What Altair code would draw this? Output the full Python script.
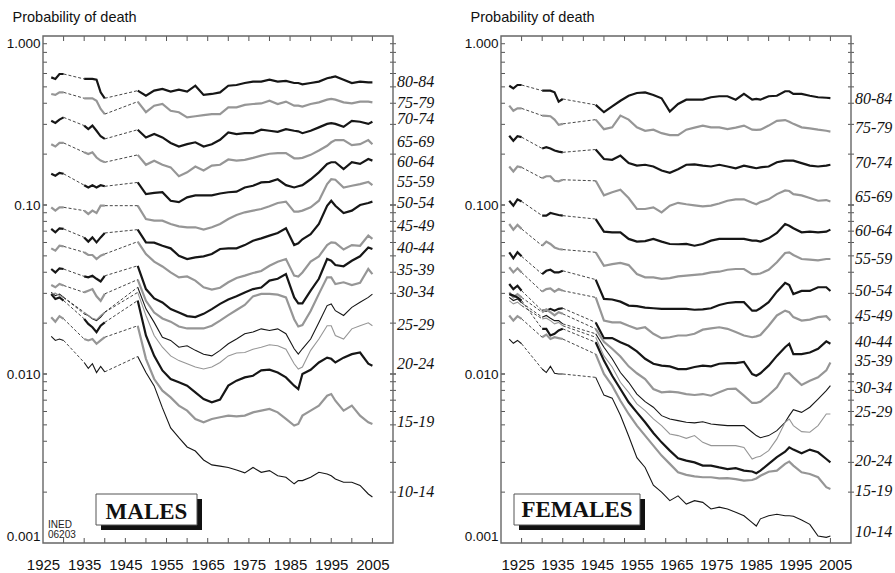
import altair as alt
import pandas as pd

# ---------------- data ----------------
YEARS_A = [1927, 1928, 1929, 1930]
YEARS_B = [1935, 1936, 1937, 1938, 1939, 1940]
YEARS_C = [1948, 1950, 1952, 1954, 1956, 1958, 1960, 1962, 1964, 1966, 1968, 1970,
           1972, 1974, 1976, 1978, 1980, 1982, 1984, 1986, 1987, 1988, 1990, 1992,
           1994, 1995, 1996, 1998, 2000, 2002, 2004, 2005]

AGES = ["80-84", "75-79", "70-74", "65-69", "60-64", "55-59", "50-54", "45-49",
        "40-44", "35-39", "30-34", "25-29", "20-24", "15-19", "10-14"]

# Males: values for YEARS_A + YEARS_B + YEARS_C
m_80_84 = [0.569, 0.557, 0.596, 0.596,
           0.557, 0.557, 0.557, 0.551, 0.464, 0.428,
           0.475, 0.443, 0.475, 0.486, 0.469, 0.481, 0.469, 0.508, 0.448, 0.454, 0.464, 0.508,
           0.513, 0.527, 0.537, 0.537, 0.551, 0.537, 0.542, 0.527, 0.527, 0.518, 0.527, 0.537,
           0.562, 0.569, 0.577, 0.551, 0.527, 0.537, 0.532, 0.532]
m_75_79 = [0.454, 0.448, 0.464, 0.464,
           0.428, 0.428, 0.428, 0.414, 0.370, 0.345,
           0.409, 0.354, 0.387, 0.396, 0.361, 0.354, 0.330, 0.335, 0.340, 0.345, 0.345, 0.378,
           0.378, 0.391, 0.396, 0.399, 0.414, 0.396, 0.409, 0.387, 0.387, 0.382, 0.396, 0.405,
           0.420, 0.424, 0.420, 0.405, 0.399, 0.409, 0.409, 0.405]
m_70_74 = [0.315, 0.306, 0.320, 0.330,
           0.295, 0.281, 0.295, 0.275, 0.255, 0.246,
           0.279, 0.251, 0.263, 0.251, 0.233, 0.222, 0.229, 0.235, 0.222, 0.229, 0.243, 0.269,
           0.263, 0.266, 0.266, 0.279, 0.275, 0.271, 0.281, 0.275, 0.273, 0.266, 0.275, 0.288,
           0.302, 0.305, 0.302, 0.290, 0.315, 0.311, 0.302, 0.311]
m_65_69 = [0.229, 0.222, 0.233, 0.233,
           0.205, 0.200, 0.205, 0.191, 0.183, 0.179,
           0.198, 0.173, 0.183, 0.173, 0.167, 0.148, 0.156, 0.169, 0.160, 0.171, 0.173, 0.186,
           0.183, 0.185, 0.190, 0.196, 0.201, 0.203, 0.203, 0.189, 0.189, 0.190, 0.198, 0.210,
           0.224, 0.235, 0.242, 0.242, 0.226, 0.229, 0.242, 0.229]
m_60_64 = [0.153, 0.149, 0.155, 0.153,
           0.131, 0.127, 0.131, 0.127, 0.131, 0.129,
           0.136, 0.116, 0.118, 0.119, 0.106, 0.104, 0.111, 0.114, 0.114, 0.114, 0.117, 0.119,
           0.120, 0.127, 0.130, 0.136, 0.137, 0.142, 0.131, 0.127, 0.129, 0.131, 0.142, 0.156,
           0.175, 0.179, 0.179, 0.163, 0.179, 0.175, 0.187, 0.183]
m_55_59 = [0.0969, 0.0926, 0.0969, 0.0969,
           0.0926, 0.0885, 0.0926, 0.0897, 0.0991, 0.0991,
           0.0991, 0.0826, 0.0808, 0.0808, 0.0772, 0.0748, 0.0738, 0.0738, 0.0715, 0.0738, 0.0772, 0.0826,
           0.0873, 0.0905, 0.0926, 0.0947, 0.0982, 0.1028, 0.1047, 0.0913, 0.0913, 0.0926, 0.0969, 0.106,
           0.133, 0.142, 0.141, 0.127, 0.130, 0.133, 0.137, 0.131]
m_50_54 = [0.0722, 0.0689, 0.0728, 0.0722,
           0.0643, 0.0607, 0.0643, 0.0601, 0.0643, 0.0683,
           0.0715, 0.0601, 0.0599, 0.0574, 0.0554, 0.0501, 0.0479, 0.0490, 0.0497, 0.0513, 0.0549, 0.0554,
           0.0554, 0.0579, 0.0615, 0.0635, 0.0659, 0.0683, 0.0728, 0.0579, 0.0593, 0.0627, 0.0672, 0.0772,
           0.099, 0.106, 0.099, 0.0897, 0.0926, 0.100, 0.1028, 0.1047]
m_45_49 = [0.0554, 0.0537, 0.0574, 0.0569,
           0.0525, 0.0506, 0.0506, 0.0479, 0.0501, 0.0513,
           0.0607, 0.0513, 0.0462, 0.0433, 0.0399, 0.0373, 0.0378, 0.0357, 0.0326, 0.0316, 0.0324, 0.0349,
           0.0370, 0.0382, 0.0396, 0.0407, 0.0437, 0.0462, 0.0479, 0.0382, 0.0377, 0.0399, 0.0462, 0.0497,
           0.0579, 0.0601, 0.0597, 0.0545, 0.0579, 0.0574, 0.0659, 0.0630]
m_40_44 = [0.0418, 0.0399, 0.0422, 0.0418,
           0.0378, 0.0373, 0.0381, 0.0366, 0.0353, 0.0381,
           0.0437, 0.0318, 0.0280, 0.0265, 0.0242, 0.0231, 0.0220, 0.0217, 0.0227, 0.0242, 0.0260, 0.0276,
           0.0288, 0.0304, 0.0318, 0.0325, 0.0357, 0.0366, 0.0390, 0.0284, 0.0262, 0.0262, 0.0311, 0.0366,
           0.0479, 0.0468, 0.0441, 0.0434, 0.0468, 0.0497, 0.0561, 0.0549]
m_35_39 = [0.0336, 0.0326, 0.0341, 0.0334,
           0.0304, 0.0311, 0.0318, 0.0288, 0.0271, 0.0298,
           0.0362, 0.0271, 0.0231, 0.0213, 0.0204, 0.0191, 0.0186, 0.0186, 0.0186, 0.0193, 0.0207, 0.0223,
           0.0239, 0.0256, 0.0288, 0.0298, 0.0298, 0.0295, 0.0284, 0.0211, 0.0191, 0.0195, 0.0236, 0.0298,
           0.0373, 0.0373, 0.0341, 0.0349, 0.0336, 0.0346, 0.0418, 0.0390]
m_30_34 = [0.0304, 0.0291, 0.0297, 0.0284,
           0.0227, 0.0222, 0.0212, 0.0207, 0.0217, 0.0232,
           0.0326, 0.0243, 0.0202, 0.0165, 0.0158, 0.0144, 0.0147, 0.0138, 0.0131, 0.0128, 0.0138, 0.0151,
           0.0161, 0.0173, 0.0177, 0.0185, 0.0181, 0.0185, 0.0173, 0.0141, 0.0131, 0.0141, 0.0161, 0.0202,
           0.0254, 0.0260, 0.0237, 0.0222, 0.0248, 0.0266, 0.0284, 0.0297]
m_25_29 = [0.0297, 0.0301, 0.0291, 0.0284,
           0.0232, 0.0222, 0.0214, 0.0210, 0.0222, 0.0232,
           0.0304, 0.0222, 0.0169, 0.0144, 0.0128, 0.0120, 0.0115, 0.0110, 0.0107, 0.0110, 0.0117, 0.0128,
           0.0133, 0.0134, 0.0140, 0.0144, 0.0149, 0.0147, 0.0140, 0.0115, 0.0107, 0.0110, 0.0138, 0.0161,
           0.0193, 0.0193, 0.0169, 0.0161, 0.0185, 0.0193, 0.0201, 0.0193]
m_20_24 = [0.0297, 0.0278, 0.0284, 0.0272,
           0.0212, 0.0198, 0.0189, 0.0177, 0.0193, 0.0202,
           0.0272, 0.0169, 0.0128, 0.0105, 0.00934, 0.00893, 0.00853, 0.00779, 0.00711, 0.00680, 0.00705, 0.00853,
           0.00913, 0.00955, 0.00977, 0.0105, 0.0106, 0.0102, 0.00955, 0.00853, 0.00815, 0.0100, 0.0106, 0.0117,
           0.0125, 0.0123, 0.0117, 0.0125, 0.0131, 0.0134, 0.0115, 0.0112]
m_15_19 = [0.0217, 0.0204, 0.0220, 0.0212,
           0.0161, 0.0158, 0.0161, 0.0151, 0.0158, 0.0165,
           0.0193, 0.0123, 0.00934, 0.00797, 0.00727, 0.00650, 0.00607, 0.00542, 0.00518, 0.00542, 0.00555, 0.00567,
           0.00562, 0.00567, 0.00593, 0.00607, 0.00621, 0.00593, 0.00542, 0.00495, 0.00506, 0.00567, 0.00607, 0.00650,
           0.00744, 0.00761, 0.00695, 0.00607, 0.00650, 0.00567, 0.00518, 0.00506]
m_10_14 = [0.0167, 0.0158, 0.0161, 0.0158,
           0.0117, 0.0108, 0.0115, 0.0102, 0.0111, 0.0103,
           0.0127, 0.0102, 0.0085, 0.0063, 0.0048, 0.0042, 0.0037, 0.0035, 0.0031, 0.0029, 0.00285, 0.0028,
           0.0027, 0.0026, 0.0028, 0.00262, 0.00268, 0.0025, 0.00245, 0.00224, 0.00234, 0.00234, 0.00245, 0.00262,
           0.00256, 0.0025, 0.00239, 0.00229, 0.00229, 0.00219, 0.00195, 0.00187]

# Females
f_80_84 = [0.508, 0.490, 0.513, 0.513,
           0.475, 0.475, 0.475, 0.464, 0.409, 0.424,
           0.391, 0.354, 0.383, 0.414, 0.443, 0.460, 0.464, 0.448, 0.428, 0.357, 0.396, 0.420,
           0.420, 0.420, 0.434, 0.440, 0.440, 0.420, 0.454, 0.420, 0.424, 0.420, 0.440, 0.443,
           0.471, 0.471, 0.454, 0.454, 0.443, 0.434, 0.431, 0.429]
f_75_79 = [0.387, 0.361, 0.373, 0.373,
           0.338, 0.337, 0.335, 0.320, 0.298, 0.302,
           0.320, 0.281, 0.288, 0.338, 0.320, 0.288, 0.275, 0.279, 0.266, 0.259, 0.259, 0.279,
           0.287, 0.295, 0.288, 0.288, 0.281, 0.287, 0.295, 0.279, 0.278, 0.279, 0.295, 0.315,
           0.318, 0.311, 0.302, 0.288, 0.284, 0.279, 0.275, 0.272]
f_70_74 = [0.257, 0.240, 0.255, 0.252,
           0.216, 0.220, 0.216, 0.210, 0.207, 0.205,
           0.213, 0.187, 0.185, 0.196, 0.177, 0.171, 0.173, 0.169, 0.160, 0.155, 0.163, 0.173,
           0.174, 0.171, 0.169, 0.173, 0.169, 0.165, 0.171, 0.167, 0.165, 0.167, 0.169, 0.179,
           0.183, 0.183, 0.183, 0.177, 0.171, 0.169, 0.171, 0.173]
f_65_69 = [0.169, 0.158, 0.169, 0.167,
           0.144, 0.148, 0.148, 0.139, 0.138, 0.141,
           0.139, 0.114, 0.119, 0.123, 0.110, 0.0947, 0.0947, 0.0969, 0.0905, 0.0991, 0.103, 0.101,
           0.0995, 0.0982, 0.0991, 0.102, 0.106, 0.108, 0.108, 0.103, 0.101, 0.104, 0.108, 0.116,
           0.122, 0.121, 0.116, 0.114, 0.110, 0.106, 0.107, 0.105]
f_60_64 = [0.106, 0.0991, 0.108, 0.105,
           0.0865, 0.0865, 0.0897, 0.0885, 0.0873, 0.0865,
           0.0826, 0.0695, 0.0689, 0.0689, 0.0630, 0.0607, 0.0612, 0.0630, 0.0607, 0.0588, 0.0586, 0.0588,
           0.0574, 0.0588, 0.0615, 0.0630, 0.0630, 0.0630, 0.0630, 0.0615, 0.0615, 0.0607, 0.0635, 0.0683,
           0.0772, 0.0754, 0.0728, 0.0689, 0.0695, 0.0689, 0.0695, 0.0715]
f_55_59 = [0.0772, 0.0715, 0.0762, 0.0722,
           0.0574, 0.0607, 0.0588, 0.0561, 0.0549, 0.0545,
           0.0525, 0.0437, 0.0447, 0.0454, 0.0441, 0.0390, 0.0373, 0.0373, 0.0366, 0.0369, 0.0378, 0.0382,
           0.0386, 0.0390, 0.0399, 0.0403, 0.0414, 0.0418, 0.0418, 0.0390, 0.0390, 0.0393, 0.0414, 0.0458,
           0.0520, 0.0525, 0.0506, 0.0479, 0.0475, 0.0470, 0.0479, 0.0479]
f_50_54 = [0.0525, 0.0484, 0.0525, 0.0497,
           0.0390, 0.0408, 0.0414, 0.0399, 0.0399, 0.0408,
           0.0362, 0.0278, 0.0276, 0.0268, 0.0254, 0.0252, 0.0247, 0.0245, 0.0243, 0.0243, 0.0243, 0.0243,
           0.0240, 0.0241, 0.0245, 0.0256, 0.0263, 0.0266, 0.0266, 0.0237, 0.0237, 0.0245, 0.0266, 0.0307,
           0.0346, 0.0336, 0.0297, 0.0310, 0.0310, 0.0326, 0.0326, 0.0310]
f_45_49 = [0.0428, 0.0399, 0.0422, 0.0399,
           0.0307, 0.0318, 0.0321, 0.0307, 0.0318, 0.0311,
           0.0284, 0.0207, 0.0202, 0.0202, 0.0193, 0.0185, 0.0189, 0.0173, 0.0163, 0.0165, 0.0169, 0.0169,
           0.0173, 0.0183, 0.0186, 0.0189, 0.0185, 0.0177, 0.0169, 0.0165, 0.0167, 0.0170, 0.0193, 0.0222,
           0.0237, 0.0232, 0.0217, 0.0207, 0.0210, 0.0217, 0.0220, 0.0207]
f_40_44 = [0.0341, 0.0318, 0.0333, 0.0311,
           0.0237, 0.0237, 0.0243, 0.0237, 0.0243, 0.0245,
           0.0202, 0.0163, 0.0163, 0.0154, 0.0147, 0.0136, 0.0123, 0.0115, 0.0112, 0.0111, 0.0107, 0.0107,
           0.0110, 0.0112, 0.0111, 0.0115, 0.0116, 0.0116, 0.0118, 0.0100, 0.00977, 0.0101, 0.0112, 0.0128,
           0.0144, 0.0151, 0.0131, 0.0131, 0.0134, 0.0141, 0.0156, 0.0151]
f_35_39 = [0.0304, 0.0284, 0.0297, 0.0284,
           0.0232, 0.0241, 0.0232, 0.0222, 0.0232, 0.0227,
           0.0185, 0.0155, 0.0141, 0.0127, 0.0111, 0.0101, 0.00934, 0.00815, 0.00779, 0.00786, 0.00779, 0.00761,
           0.00751, 0.00761, 0.00744, 0.00779, 0.00815, 0.00820, 0.00744, 0.00674, 0.00674, 0.00686, 0.00751, 0.00834,
           0.0100, 0.0101, 0.00955, 0.00861, 0.00913, 0.00955, 0.0105, 0.0117]
f_30_34 = [0.0284, 0.0272, 0.0278, 0.0264,
           0.0217, 0.0222, 0.0214, 0.0207, 0.0207, 0.0198,
           0.0173, 0.0144, 0.0123, 0.0102, 0.00893, 0.00761, 0.00686, 0.00636, 0.00567, 0.00542, 0.00530, 0.00518,
           0.00514, 0.00522, 0.00506, 0.00500, 0.00495, 0.00495, 0.00495, 0.00452, 0.00432, 0.00420, 0.00432, 0.00462,
           0.00518, 0.00567, 0.00615, 0.00593, 0.00636, 0.00711, 0.00797, 0.00853]
f_25_29 = [0.0272, 0.0260, 0.0266, 0.0254,
           0.0212, 0.0214, 0.0207, 0.0198, 0.0202, 0.0193,
           0.0165, 0.0128, 0.0110, 0.00893, 0.00779, 0.00665, 0.00607, 0.00542, 0.00495, 0.00442, 0.00432, 0.00416,
           0.00432, 0.00394, 0.00377, 0.00377, 0.00377, 0.00377, 0.00368, 0.00314, 0.00322, 0.00326, 0.00352, 0.00413,
           0.00518, 0.00542, 0.00495, 0.00456, 0.00452, 0.00495, 0.00580, 0.00580]
f_20_24 = [0.0297, 0.0291, 0.0284, 0.0272,
           0.0185, 0.0185, 0.0169, 0.0173, 0.0181, 0.0185,
           0.0154, 0.0120, 0.00977, 0.00815, 0.00680, 0.00593, 0.00518, 0.00448, 0.00394, 0.00352, 0.00317, 0.00307,
           0.00300, 0.00287, 0.00287, 0.00280, 0.00274, 0.00277, 0.00268, 0.00265, 0.00259, 0.00268, 0.00294, 0.00322,
           0.00347, 0.00368, 0.00357, 0.00340, 0.00357, 0.00344, 0.00314, 0.00300]
f_15_19 = [0.0222, 0.0207, 0.0220, 0.0212,
           0.0165, 0.0171, 0.0161, 0.0165, 0.0163, 0.0161,
           0.0131, 0.0100, 0.00853, 0.00695, 0.00580, 0.00495, 0.00432, 0.00377, 0.00329, 0.00294, 0.00262, 0.00253,
           0.00248, 0.00245, 0.00245, 0.00241, 0.00242, 0.00239, 0.00234, 0.00236, 0.00241, 0.00250, 0.00264, 0.00268,
           0.00294, 0.00303, 0.00287, 0.00262, 0.00256, 0.00245, 0.00214, 0.00209]
f_10_14 = [0.0161, 0.0152, 0.0158, 0.0151,
           0.0107, 0.0102, 0.0111, 0.0101, 0.0100, 0.0100,
           0.00955, 0.0075, 0.0072, 0.0057, 0.0043, 0.0032, 0.0028, 0.0022, 0.0020, 0.00178, 0.0019, 0.0017,
           0.00178, 0.00174, 0.00159, 0.00163, 0.00159, 0.00152, 0.00145, 0.00132, 0.00126, 0.00139, 0.00145, 0.00148,
           0.00145, 0.00145, 0.00144, 0.00137, 0.00129, 0.00110, 0.00108, 0.00110]

MALES = dict(zip(AGES, [m_80_84, m_75_79, m_70_74, m_65_69, m_60_64, m_55_59, m_50_54, m_45_49,
                        m_40_44, m_35_39, m_30_34, m_25_29, m_20_24, m_15_19, m_10_14]))
FEMALES = dict(zip(AGES, [f_80_84, f_75_79, f_70_74, f_65_69, f_60_64, f_55_59, f_50_54, f_45_49,
                          f_40_44, f_35_39, f_30_34, f_25_29, f_20_24, f_15_19, f_10_14]))

# where the age labels sit on the probability axis
MALE_LABEL_AT = [0.532, 0.402, 0.323, 0.235, 0.179, 0.137, 0.103, 0.0755, 0.0557, 0.0414,
                 0.0304, 0.0196, 0.01146, 0.00518, 0.00200]
FEMALE_LABEL_AT = [0.424, 0.284, 0.177, 0.111, 0.0705, 0.0479, 0.0311, 0.0221, 0.0154, 0.0120,
                   0.00823, 0.00598, 0.00307, 0.00204, 0.00116]

X_TICKS = [1930, 1935, 1940, 1945, 1950, 1955, 1960, 1965, 1970, 1975, 1980, 1985,
           1990, 1995, 2000, 2005]
X_LABELS = [1925, 1935, 1945, 1955, 1965, 1975, 1985, 1995, 2005]
Y_TICKS = [0.002, 0.003, 0.004, 0.005, 0.006, 0.007, 0.008, 0.009,
           0.01, 0.02, 0.03, 0.04, 0.05, 0.06, 0.07, 0.08, 0.09,
           0.1, 0.2, 0.3, 0.4, 0.5, 0.6, 0.7, 0.8, 0.9]
Y_LABELS = [0.001, 0.01, 0.1, 1.0]

# ---------------- style ----------------
BLACK = "#161616"
GRAY = "#969696"
FRAME = "#666666"
THICK, THIN = 2.2, 1.1
STYLE = {"80-84": (BLACK, THICK), "75-79": (GRAY, THICK), "70-74": (BLACK, THICK),
         "65-69": (GRAY, THICK), "60-64": (BLACK, THICK), "55-59": (GRAY, THICK),
         "50-54": (BLACK, THICK), "45-49": (GRAY, THICK), "40-44": (BLACK, THICK),
         "35-39": (GRAY, THICK), "30-34": (BLACK, THIN), "25-29": (GRAY, THIN),
         "20-24": (BLACK, THICK), "15-19": (GRAY, THICK), "10-14": (BLACK, THIN)}

W, H = 350, 507


def long_frames(series):
    rows, conn = [], []
    for age, vals in series.items():
        assert len(vals) == len(YEARS_A) + len(YEARS_B) + len(YEARS_C), age
        a, b, c = vals[:4], vals[4:10], vals[10:]
        col, w = STYLE[age]
        for seg, yrs, vs in (("A", YEARS_A, a), ("B", YEARS_B, b), ("C", YEARS_C, c)):
            for yr, v in zip(yrs, vs):
                rows.append(dict(age=age, seg=age + seg, year=yr, value=v, clr=col, sw=w))
        conn += [dict(seg=age + "g1", year=YEARS_A[-1], value=a[-1]),
                 dict(seg=age + "g1", year=YEARS_B[0], value=b[0]),
                 dict(seg=age + "g2", year=YEARS_B[-1], value=b[-1]),
                 dict(seg=age + "g2", year=YEARS_C[0], value=c[0])]
    return pd.DataFrame(rows), pd.DataFrame(conn)


def panel(series, label_at, ylab_expr, box_text, bx, bw, text_base, ined, xlab_domain):
    lines_df, conn_df = long_frames(series)
    xs = alt.Scale(domain=[1925, 2010], nice=False, zero=False)
    ys = alt.Scale(type="log", domain=[0.001, 1.0], nice=False)

    solid = alt.Chart(lines_df).mark_line().encode(
        x=alt.X("year:Q", scale=xs, axis=None),
        y=alt.Y("value:Q", scale=ys, axis=None),
        detail="seg:N",
        color=alt.Color("clr:N", scale=None),
        strokeWidth=alt.StrokeWidth("sw:Q", scale=None),
    )
    dashed = alt.Chart(conn_df).mark_line(strokeDash=[3, 2], strokeWidth=0.8, color=BLACK).encode(
        x=alt.X("year:Q", scale=xs, axis=None),
        y=alt.Y("value:Q", scale=ys, axis=None),
        detail="seg:N",
    )
    labels = alt.Chart(pd.DataFrame({"age": AGES, "value": label_at})).mark_text(
        align="left", baseline="middle", font="Liberation Serif", fontStyle="italic",
        fontSize=16, dx=4, color="#111"
    ).encode(x=alt.value(W), y=alt.Y("value:Q", scale=ys, axis=None), text="age:N")

    # axis labels (carried by invisible rules)
    xlab = alt.Chart(pd.DataFrame({"year": X_LABELS})).mark_rule(opacity=0).encode(
        x=alt.X("year:Q", scale=alt.Scale(domain=xlab_domain, nice=False, zero=False),
                axis=alt.Axis(orient="bottom", values=X_LABELS, format="d", ticks=False,
                              tickSize=0, domain=False, grid=False, labelPadding=14,
                              labelFlush=False, labelOverlap=False, labelFontSize=15,
                              title=None)))
    ylab = alt.Chart(pd.DataFrame({"value": Y_LABELS})).mark_rule(opacity=0).encode(
        y=alt.Y("value:Q", scale=ys,
                axis=alt.Axis(orient="left", values=Y_LABELS, labelExpr=ylab_expr,
                              ticks=False, tickSize=0, domain=False, grid=False,
                              labelPadding=3, labelOverlap=False, labelFlush=True,
                              labelFontSize=13.5, title="Probability of death",
                              titleAngle=0, titleAlign="left", titleBaseline="middle",
                              titleX=-31, titleY=-19, titleFontWeight="normal",
                              titleFontSize=14.5)))

    # tick marks on the frame (inward)
    xt = pd.DataFrame({"year": X_TICKS})
    yt = pd.DataFrame({"value": Y_TICKS + Y_LABELS[1:3]})
    tick_style = dict(color="#555", strokeWidth=1)
    bottom_t = alt.Chart(xt).mark_rule(**tick_style).encode(
        x=alt.X("year:Q", scale=xs, axis=None), y=alt.value(H - 5), y2=alt.value(H))
    top_t = alt.Chart(xt).mark_rule(**tick_style).encode(
        x=alt.X("year:Q", scale=xs, axis=None), y=alt.value(0), y2=alt.value(5))
    left_t = alt.Chart(yt).mark_rule(**tick_style).encode(
        y=alt.Y("value:Q", scale=ys, axis=None), x=alt.value(0), x2=alt.value(4))
    right_t = alt.Chart(yt).mark_rule(**tick_style).encode(
        y=alt.Y("value:Q", scale=ys, axis=None), x=alt.value(W - 3), x2=alt.value(W + 3))

    one = pd.DataFrame({"t": [box_text]})
    frame = alt.Chart(one).mark_rect(fillOpacity=0, stroke=FRAME, strokeWidth=1.4).encode(
        x=alt.value(0), x2=alt.value(W), y=alt.value(0), y2=alt.value(H))

    top, h, sh = 458, 31, 5
    shadow = alt.Chart(one).mark_rect(color="#111").encode(
        x=alt.value(bx + sh), x2=alt.value(bx + bw + sh),
        y=alt.value(top + sh), y2=alt.value(top + h + sh))
    box = alt.Chart(one).mark_rect(fill="white", stroke="#555", strokeWidth=1).encode(
        x=alt.value(bx), x2=alt.value(bx + bw), y=alt.value(top), y2=alt.value(top + h))
    btxt = alt.Chart(one).mark_text(font="Liberation Serif", fontWeight="bold", fontSize=23,
                                    align="center", baseline="alphabetic", color="#111").encode(
        x=alt.value(bx + bw / 2), y=alt.value(text_base), text="t:N")
    layers = [xlab, ylab, bottom_t, top_t, left_t, right_t, solid, dashed, labels,
              shadow, box, btxt]
    if ined:
        for txt, yy in (("INED", 489), ("06203", 499)):
            layers.append(alt.Chart(one).mark_text(font="Liberation Sans", fontSize=10,
                                                   align="left", baseline="middle", color="#222").encode(
                x=alt.value(5), y=alt.value(yy), text=alt.value(txt)))
    layers.append(frame)
    return alt.layer(*layers).resolve_scale(x="independent").resolve_axis(
        x="independent", y="independent").properties(width=W, height=H)


male_expr = ("datum.value > 0.999 ? '1.000' : abs(datum.value - 0.1) < 1e-9 ? '0.10' : "
             "abs(datum.value - 0.01) < 1e-10 ? '0.010' : '0.001'")
female_expr = ("datum.value > 0.999 ? '1.000' : abs(datum.value - 0.1) < 1e-9 ? '0.100' : "
               "abs(datum.value - 0.01) < 1e-10 ? '0.010' : '0.001'")

left = panel(MALES, MALE_LABEL_AT, male_expr, "MALES", 53, 101, 483, True, [1925, 2010])
right = panel(FEMALES, FEMALE_LABEL_AT, female_expr, "FEMALES", 13, 126, 481, False,
              [1920.8, 2009.0])

chart = alt.hconcat(left, right, spacing=108, bounds="flush").properties(
    padding={"left": 6, "top": 9, "right": 2, "bottom": 0}
).configure_view(strokeWidth=0).configure_axis(
    labelFont="Liberation Sans", titleFont="Liberation Sans", labelColor="#111",
    titleColor="#111"
)

chart.save("out.html", embed_options={"renderer": "svg", "actions": False})
